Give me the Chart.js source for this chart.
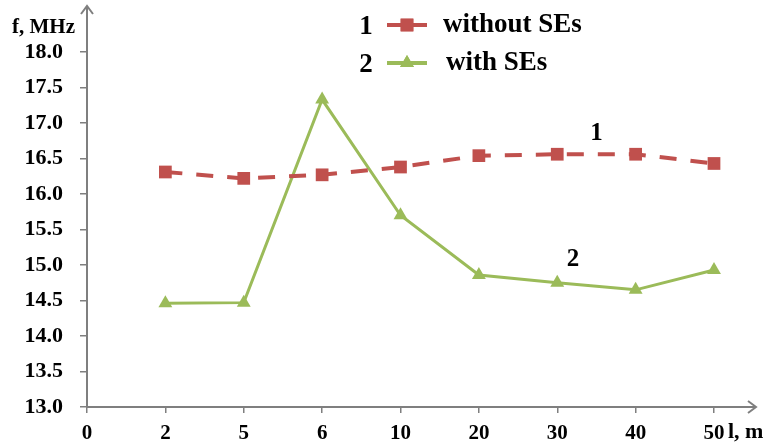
<!DOCTYPE html>
<html>
<head>
<meta charset="utf-8">
<script src="https://cdn.jsdelivr.net/npm/chart.js@4/dist/chart.umd.min.js"></script>
<style>
html,body{margin:0;padding:0;background:#fff;}
#wrap{width:768px;height:443px;position:relative;}
</style>
</head>
<body>
<div id="wrap"><canvas id="c" width="768" height="443"></canvas></div>
<script>
const categories = ['0','2','5','6','10','20','30','40','50'];
const withoutSEs = [null,16.31,16.22,16.27,16.38,16.54,16.56,16.56,16.43];
const withSEs    = [null,14.46,14.47,17.33,15.70,14.86,14.75,14.65,14.93];
const seriesNumbers = ['1','2'];
const seriesNames = ['without SEs','with SEs'];
const yMin = 13.0, yMax = 18.0, yStep = 0.5;
const yAxisTitle = 'f, MHz';
const xAxisTitle = 'l, m';

const RED = '#C0504D', GREEN = '#9BBB59', AXIS = '#7f7f7f';
const FONT = '"Liberation Serif", "Times New Roman", serif';

const decor = {
  id: 'decor',
  afterDraw(chart) {
    const ctx = chart.ctx;
    const xs = chart.scales.x, ys = chart.scales.y;
    const ca = chart.chartArea;
    ctx.save();
    ctx.strokeStyle = AXIS; ctx.lineWidth = 2;
    ctx.beginPath();
    ctx.moveTo(ca.left, ca.top); ctx.lineTo(ca.left, 6);
    ctx.moveTo(ca.right, ca.bottom); ctx.lineTo(756, ca.bottom);
    ctx.stroke();
    ctx.beginPath();
    ctx.moveTo(ca.left - 6, 14); ctx.lineTo(ca.left, 6); ctx.lineTo(ca.left + 6, 14);
    ctx.moveTo(748, ca.bottom - 6); ctx.lineTo(756, ca.bottom); ctx.lineTo(748, ca.bottom + 6);
    ctx.stroke();
    ctx.fillStyle = '#000';
    ctx.font = 'bold 21px ' + FONT;
    ctx.textAlign = 'left'; ctx.textBaseline = 'alphabetic';
    ctx.fillText(yAxisTitle, 12, 33);
    ctx.font = 'bold 22px ' + FONT;
    ctx.fillText(xAxisTitle, 728, 438);
    ctx.font = 'bold 25px ' + FONT;
    ctx.textAlign = 'center'; ctx.textBaseline = 'middle';
    ctx.fillText(seriesNumbers[0], xs.getPixelForValue(6.5), ys.getPixelForValue(16.85));
    ctx.fillText(seriesNumbers[1], xs.getPixelForValue(6.2), ys.getPixelForValue(15.07));
    const rows = [25, 63];
    chart.data.datasets.forEach((ds, i) => {
      const y = rows[i];
      ctx.fillStyle = '#000';
      ctx.font = 'bold 27px ' + FONT;
      ctx.textAlign = 'center'; ctx.textBaseline = 'middle';
      ctx.fillText(seriesNumbers[i], 366, y + 2);
      ctx.strokeStyle = ds.borderColor; ctx.lineWidth = 4; ctx.setLineDash([]);
      ctx.beginPath(); ctx.moveTo(387, y); ctx.lineTo(427, y); ctx.stroke();
      ctx.fillStyle = ds.backgroundColor;
      Chart.helpers.drawPoint(ctx, {pointStyle: ds.pointStyle, radius: ds.pointRadius, borderWidth: 0, rotation: 0}, 407, y);
      ctx.fill();
      ctx.fillStyle = '#000';
      ctx.font = 'bold 27px ' + FONT;
      ctx.textAlign = 'left';
      ctx.fillText(ds.label, 443 + i * 3, y);
    });
    ctx.restore();
  }
};

new Chart(document.getElementById('c'), {
  type: 'line',
  data: {
    labels: categories,
    datasets: [
      { label: seriesNames[0], data: withoutSEs, borderColor: RED, backgroundColor: RED,
        borderWidth: 4, borderDash: [17, 14], pointStyle: 'rect', pointRadius: 9,
        pointBorderWidth: 0, tension: 0, spanGaps: false },
      { label: seriesNames[1], data: withSEs, borderColor: GREEN, backgroundColor: GREEN,
        borderWidth: 3, pointStyle: 'triangle', pointRadius: 8,
        pointBorderWidth: 0, tension: 0, spanGaps: false }
    ]
  },
  plugins: [decor],
  options: {
    responsive: false,
    animation: false,
    layout: { padding: { top: 52, right: 54, left: 0, bottom: 0 } },
    plugins: { legend: { display: false }, tooltip: { enabled: false } },
    scales: {
      x: {
        type: 'category', offset: false,
        grid: { drawOnChartArea: false, drawTicks: true, tickLength: 6, color: AXIS, lineWidth: 1.5 },
        border: { color: AXIS, width: 2 },
        ticks: { color: '#000', font: { family: FONT, size: 21, weight: 'bold' }, padding: 8, maxRotation: 0, autoSkip: false },
        afterFit(s) { s.height = 36; }
      },
      y: {
        min: yMin, max: yMax,
        grid: { drawOnChartArea: false, drawTicks: true, tickLength: 7, color: AXIS, lineWidth: 1.5 },
        border: { color: AXIS, width: 2 },
        ticks: { stepSize: yStep, color: '#000', font: { family: FONT, size: 22, weight: 'bold' }, padding: 17,
                 callback: v => v.toFixed(1) },
        afterFit(s) { s.width = 87; }
      }
    }
  }
});
</script>
</body>
</html>
